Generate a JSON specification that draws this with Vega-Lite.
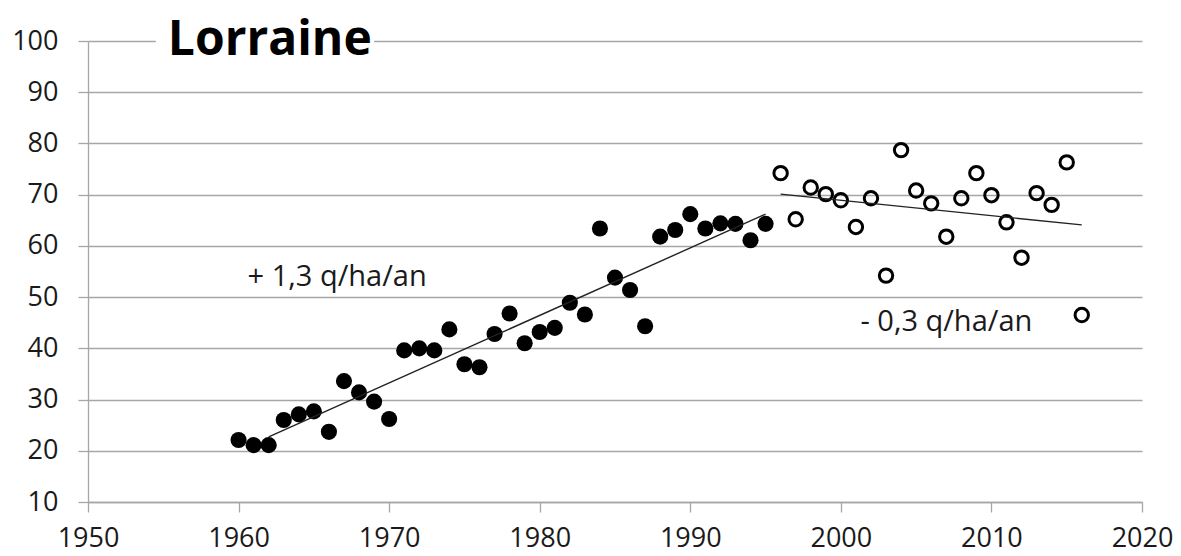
{
  "$schema": "https://vega.github.io/schema/vega-lite/v6.json",
  "width": 1054,
  "height": 461,
  "autosize": "none",
  "padding": {"left": 88, "top": 41, "right": 39, "bottom": 54},
  "background": "white",
  "config": {
    "view": {"stroke": null},
    "font": "Open Sans",
    "axis": {
      "labelFont": "Open Sans",
      "labelFontSize": 27,
      "labelColor": "#1a1a1a",
      "domainColor": "#a6a6a6",
      "tickColor": "#a6a6a6",
      "gridColor": "#a6a6a6",
      "domainWidth": 1.3,
      "tickWidth": 1.3,
      "gridWidth": 1.3,
      "tickSize": 10,
      "title": null
    }
  },
  "datasets": {
    "pts": [
      {"year": 1960, "yield": 22.1, "period": "avant"},
      {"year": 1961, "yield": 21.1, "period": "avant"},
      {"year": 1962, "yield": 21.1, "period": "avant"},
      {"year": 1963, "yield": 26.0, "period": "avant"},
      {"year": 1964, "yield": 27.1, "period": "avant"},
      {"year": 1965, "yield": 27.7, "period": "avant"},
      {"year": 1966, "yield": 23.7, "period": "avant"},
      {"year": 1967, "yield": 33.6, "period": "avant"},
      {"year": 1968, "yield": 31.4, "period": "avant"},
      {"year": 1969, "yield": 29.6, "period": "avant"},
      {"year": 1970, "yield": 26.2, "period": "avant"},
      {"year": 1971, "yield": 39.6, "period": "avant"},
      {"year": 1972, "yield": 40.0, "period": "avant"},
      {"year": 1973, "yield": 39.6, "period": "avant"},
      {"year": 1974, "yield": 43.7, "period": "avant"},
      {"year": 1975, "yield": 36.9, "period": "avant"},
      {"year": 1976, "yield": 36.3, "period": "avant"},
      {"year": 1977, "yield": 42.8, "period": "avant"},
      {"year": 1978, "yield": 46.8, "period": "avant"},
      {"year": 1979, "yield": 41.0, "period": "avant"},
      {"year": 1980, "yield": 43.2, "period": "avant"},
      {"year": 1981, "yield": 44.0, "period": "avant"},
      {"year": 1982, "yield": 48.9, "period": "avant"},
      {"year": 1983, "yield": 46.6, "period": "avant"},
      {"year": 1984, "yield": 63.4, "period": "avant"},
      {"year": 1985, "yield": 53.8, "period": "avant"},
      {"year": 1986, "yield": 51.4, "period": "avant"},
      {"year": 1987, "yield": 44.3, "period": "avant"},
      {"year": 1988, "yield": 61.8, "period": "avant"},
      {"year": 1989, "yield": 63.1, "period": "avant"},
      {"year": 1990, "yield": 66.2, "period": "avant"},
      {"year": 1991, "yield": 63.4, "period": "avant"},
      {"year": 1992, "yield": 64.4, "period": "avant"},
      {"year": 1993, "yield": 64.3, "period": "avant"},
      {"year": 1994, "yield": 61.1, "period": "avant"},
      {"year": 1995, "yield": 64.3, "period": "avant"},
      {"year": 1996, "yield": 74.2, "period": "apres"},
      {"year": 1997, "yield": 65.2, "period": "apres"},
      {"year": 1998, "yield": 71.4, "period": "apres"},
      {"year": 1999, "yield": 70.1, "period": "apres"},
      {"year": 2000, "yield": 68.9, "period": "apres"},
      {"year": 2001, "yield": 63.7, "period": "apres"},
      {"year": 2002, "yield": 69.3, "period": "apres"},
      {"year": 2003, "yield": 54.2, "period": "apres"},
      {"year": 2004, "yield": 78.7, "period": "apres"},
      {"year": 2005, "yield": 70.8, "period": "apres"},
      {"year": 2006, "yield": 68.3, "period": "apres"},
      {"year": 2007, "yield": 61.8, "period": "apres"},
      {"year": 2008, "yield": 69.3, "period": "apres"},
      {"year": 2009, "yield": 74.2, "period": "apres"},
      {"year": 2010, "yield": 69.9, "period": "apres"},
      {"year": 2011, "yield": 64.6, "period": "apres"},
      {"year": 2012, "yield": 57.7, "period": "apres"},
      {"year": 2013, "yield": 70.3, "period": "apres"},
      {"year": 2014, "yield": 68.0, "period": "apres"},
      {"year": 2015, "yield": 76.3, "period": "apres"},
      {"year": 2016, "yield": 46.5, "period": "apres"}
    ],
    "trends": [
      {"year": 1962, "yield": 22.7, "seg": "a"},
      {"year": 1995, "yield": 66.2, "seg": "a"},
      {"year": 1996, "yield": 70.1, "seg": "b"},
      {"year": 2016, "yield": 64.1, "seg": "b"}
    ],
    "labels": [
      {"year": 1960.6, "yield": 53.9, "text": "+ 1,3 q/ha/an"},
      {"year": 2001.3, "yield": 45.2, "text": "- 0,3 q/ha/an"}
    ],
    "titlebox": [
      {"x1": 1954.5, "x2": 1969.0, "y1": 98.5, "y2": 101.5}
    ],
    "title": [
      {"year": 1955.3, "yield": 97.2, "text": "Lorraine"}
    ]
  },
  "layer": [
    {
      "data": {"name": "pts"},
      "transform": [{"filter": "datum.period == 'avant'"}],
      "mark": {"type": "point", "shape": "circle", "filled": true, "color": "#000000", "size": 260, "opacity": 1},
      "encoding": {
        "x": {"field": "year", "type": "quantitative", "scale": {"domain": [1950, 2020], "nice": false, "zero": false},
          "axis": {"values": [1950, 1960, 1970, 1980, 1990, 2000, 2010, 2020], "format": "d", "grid": false, "labelPadding": 13, "labelFlush": false}},
        "y": {"field": "yield", "type": "quantitative", "scale": {"domain": [10, 100], "nice": false, "zero": false},
          "axis": {"values": [10, 20, 30, 40, 50, 60, 70, 80, 90, 100], "grid": true, "labelPadding": 20}}
      }
    },
    {
      "data": {"name": "pts"},
      "transform": [{"filter": "datum.period == 'apres'"}],
      "mark": {"type": "point", "shape": "circle", "filled": false, "stroke": "#000000", "strokeWidth": 3, "size": 180, "opacity": 1},
      "encoding": {
        "x": {"field": "year", "type": "quantitative"},
        "y": {"field": "yield", "type": "quantitative"}
      }
    },
    {
      "data": {"name": "trends"},
      "mark": {"type": "line", "color": "#222222", "strokeWidth": 1.4},
      "encoding": {
        "x": {"field": "year", "type": "quantitative"},
        "y": {"field": "yield", "type": "quantitative"},
        "detail": {"field": "seg"}
      }
    },
    {
      "data": {"name": "labels"},
      "mark": {"type": "text", "align": "left", "baseline": "middle", "font": "Open Sans", "fontSize": 29, "color": "#1a1a1a"},
      "encoding": {
        "x": {"field": "year", "type": "quantitative"},
        "y": {"field": "yield", "type": "quantitative"},
        "text": {"field": "text"}
      }
    },
    {
      "data": {"name": "titlebox"},
      "mark": {"type": "rect", "fill": "white", "stroke": null},
      "encoding": {
        "x": {"field": "x1", "type": "quantitative"},
        "x2": {"field": "x2"},
        "y": {"field": "y1", "type": "quantitative"},
        "y2": {"field": "y2"}
      }
    },
    {
      "data": {"name": "title"},
      "mark": {"type": "text", "align": "left", "baseline": "alphabetic", "font": "Open Sans", "fontWeight": "bold", "fontSize": 48, "color": "#000000"},
      "encoding": {
        "x": {"field": "year", "type": "quantitative"},
        "y": {"field": "yield", "type": "quantitative"},
        "text": {"field": "text"}
      }
    }
  ]
}
